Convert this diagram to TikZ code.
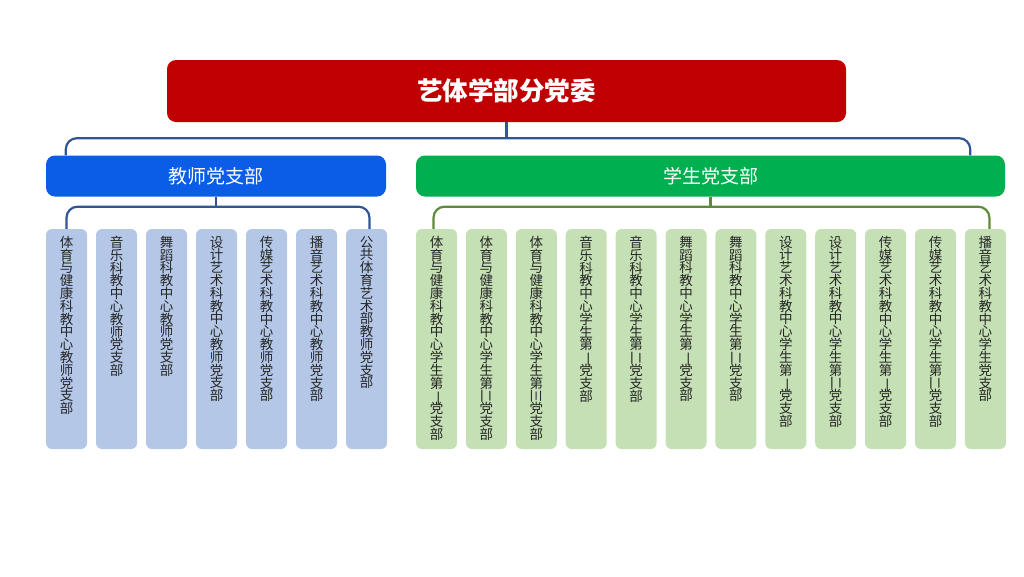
\documentclass[tikz,border=0pt]{standalone}
\usepackage{fontspec}
\setmainfont{Noto Sans CJK SC}
\usetikzlibrary{positioning}
\definecolor{party-red}{HTML}{C00000}
\definecolor{teacher-blue}{HTML}{0B5CE6}
\definecolor{student-green}{HTML}{00B050}
\definecolor{link-blue}{HTML}{2F5597}
\definecolor{link-green}{HTML}{5E8A3A}
\definecolor{teachercell}{HTML}{B4C7E7}
\definecolor{studentcell}{HTML}{C5E0B4}
% vertical text, one character per line
\newcommand{\vchar}[1]{\hbox to 20pt{\hss#1\hss}}
\newcommand{\vtext}[1]{\vbox{\baselineskip=12.8pt\lineskiplimit=-100pt\relax\expandafter\vtextrest#1\relax}}
\def\vtextrest#1{\ifx\relax#1\else\vchar{#1}\expandafter\vtextrest\fi}
% numerals turned on their side
\newcommand{\rotone}{\smash{\rotatebox[origin=c]{-90}{一}}}
\newcommand{\rottwo}{\smash{\rotatebox[origin=c]{-90}{二}}}
\newcommand{\rotthree}{\smash{\rotatebox[origin=c]{-90}{三}}}
\begin{document}
\begin{tikzpicture}[x=1pt,y=-1pt,
  headbox/.style={rounded corners=9pt, minimum height=62pt, text=white, inner sep=0pt},
  branchbox/.style={rounded corners=9pt, minimum height=41pt, text=white, inner sep=0pt, font=\fontsize{19}{22}\selectfont},
  cellbox/.style={rounded corners=6pt, minimum width=41pt, minimum height=220pt, inner sep=0pt},
  celltext/.style={anchor=north, inner sep=0pt, text=black!85, font=\fontsize{13.5}{13}\selectfont},
  link/.style={line width=2.2pt, rounded corners=11pt}]
\useasboundingbox (0,0) rectangle (1024,576);
% committee and the two branches
\node[headbox, fill=party-red, minimum width=679pt, font=\fontsize{25.5}{28}\selectfont\bfseries] (committee) at (506.5,91) {艺体学部分党委};
\node[branchbox, fill=teacher-blue, minimum width=340pt] (teachers) at (216,176) {教师党支部};
\node[branchbox, fill=student-green, minimum width=589pt] (students) at (710.5,176) {学生党支部};
% teacher cells
\foreach \txt [count=\i] in {体育与健康科教中心教师党支部,音乐科教中心教师党支部,舞蹈科教中心教师党支部,设计艺术科教中心教师党支部,传媒艺术科教中心教师党支部,播音艺术科教中心教师党支部,公共体育艺术部教师党支部} {
  \node[cellbox, fill=teachercell] (b\i) at (16.5+50*\i, 339) {};
  \node[celltext] at ([yshift=-7pt]b\i.north) {\vtext\txt};
}
% student cells
\foreach \txt [count=\i] in {体育与健康科教中心学生第\rotone 党支部,体育与健康科教中心学生第\rottwo 党支部,体育与健康科教中心学生第\rotthree 党支部,音乐科教中心学生第\rotone 党支部,音乐科教中心学生第\rottwo 党支部,舞蹈科教中心学生第\rotone 党支部,舞蹈科教中心学生第\rottwo 党支部,设计艺术科教中心学生第\rotone 党支部,设计艺术科教中心学生第\rottwo 党支部,传媒艺术科教中心学生第\rotone 党支部,传媒艺术科教中心学生第\rottwo 党支部,播音艺术科教中心学生党支部} {
  \node[cellbox, fill=studentcell] (g\i) at (386.6+49.9*\i, 339) {};
  \node[celltext] at ([yshift=-7pt]g\i.north) {\vtext\txt};
}
% connectors
\draw[link, draw=link-blue] (committee.south) -- ++(0,16) coordinate (hub);
\draw[link, draw=link-blue] ([xshift=20pt]teachers.north west) |- (hub) -| ([xshift=-35pt]students.north east);
\draw[link, draw=link-blue] (teachers.south) -- ++(0,10) coordinate (thub);
\draw[link, draw=link-blue] (b1.north) |- (thub) -| ([xshift=3pt]b7.north);
\draw[link, draw=link-green] (students.south) -- ++(0,10) coordinate (shub);
\draw[link, draw=link-green] ([xshift=-3pt]g1.north) |- (shub) -| ([xshift=4pt]g12.north);
\end{tikzpicture}
\end{document}
